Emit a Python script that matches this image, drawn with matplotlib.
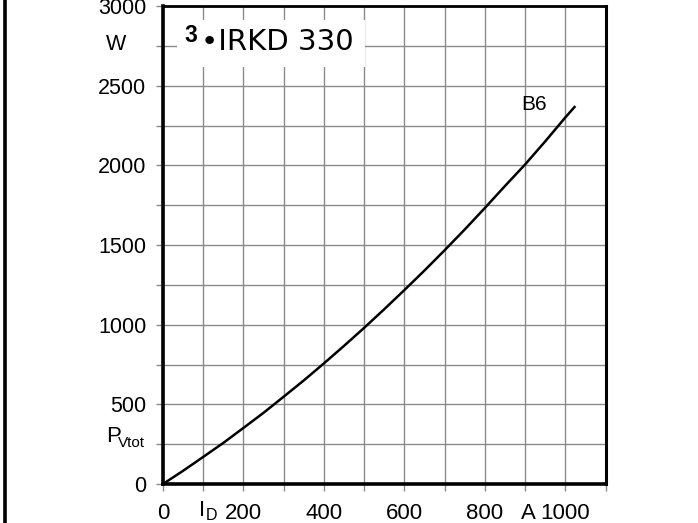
import matplotlib
matplotlib.use("Agg")
import matplotlib.pyplot as plt
from matplotlib.lines import Line2D

# ---- data ----
current_A = [0, 50, 100, 150, 200, 250, 300, 350, 400, 450, 500, 550, 600,
             650, 700, 750, 800, 850, 900, 950, 1000, 1025]
power_W = [0, 83, 170, 258, 352, 447, 548, 650, 757, 867, 980, 1097, 1217,
           1340, 1467, 1597, 1732, 1870, 2005, 2150, 2300, 2372]
x_ticks = [0, 100, 200, 300, 400, 500, 600, 700, 800, 900, 1000, 1100]
x_labels = ["0", "", "200", "", "400", "", "600", "", "800", "", "1000", ""]
y_ticks = [0, 250, 500, 750, 1000, 1250, 1500, 1750, 2000, 2250, 2500, 2750, 3000]
y_labels = ["0", "", "500", "", "1000", "", "1500", "", "2000", "", "2500", "", "3000"]
curve_name = "B6"
title_bold = "3"
title_rest = "\u2022IRKD 330"

plt.rcParams["font.family"] = ["Liberation Sans", "DejaVu Sans"]

W, H = 698, 523
fig = plt.figure(figsize=(W / 100, H / 100), dpi=100)
ax = fig.add_axes([163 / W, 1 - 484 / H, 442.5 / W, 478 / H])

ax.plot(current_A, power_W, color="black", lw=1.8, solid_capstyle="butt", zorder=3)

ax.set_xlim(0, 1100)
ax.set_ylim(0, 3000)
ax.set_xticks(x_ticks)
ax.set_xticklabels(x_labels)
ax.set_yticks(y_ticks)
ax.set_yticklabels(y_labels)
ax.grid(True, color="#8a8a8a", lw=1.0, zorder=1)
ax.tick_params(axis="both", direction="out", length=5, width=1.0, color="#8a8a8a")
ax.tick_params(axis="x", labelsize=16, pad=8.5)
ax.tick_params(axis="y", labelsize=15.5, pad=7)

for side, lw in (("left", 2.6), ("bottom", 2.6), ("top", 2.0), ("right", 2.2)):
    ax.spines[side].set_linewidth(lw)
    ax.spines[side].set_color("black")
    ax.spines[side].set_zorder(4)

# axis annotations in figure pixel coordinates
def fx(px):
    return px / W

def fy(py):
    return 1 - py / H

fig.text(fx(116), fy(44), "W", fontsize=15.5, ha="center", va="center")
fig.text(fx(106), fy(436), "P", fontsize=16, ha="left", va="center")
fig.text(fx(118), fy(443), "Vtot", fontsize=11, ha="left", va="center")
fig.text(fx(202.5), fy(510), "I", fontsize=16, ha="center", va="center")
fig.text(fx(206), fy(515.5), "D", fontsize=11.5, ha="left", va="center")
fig.text(fx(528.5), fy(513.5), "A", fontsize=16, ha="center", va="center")

# curve label
ax.text(890, 2380, curve_name, fontsize=15, ha="left", va="center", zorder=5)

# title box
fig.patches.append(plt.Rectangle((fx(177), fy(67)), (365 - 177) / W, (67 - 20) / H,
                                 transform=fig.transFigure, facecolor="white",
                                 edgecolor="none", zorder=2))
fig.text(fx(184), fy(35.5), title_bold, fontsize=16.5, fontweight="bold",
         ha="left", va="center", zorder=6)
fig.text(fx(201), fy(42), title_rest, fontsize=21, ha="left", va="center", zorder=6,
         family=["DejaVu Sans"])

# thick black bar at left edge of image
fig.lines.append(Line2D([fx(4.5), fx(4.5)], [0, 1], transform=fig.transFigure,
                        color="black", lw=2.6))

fig.savefig("out.png", dpi=100)
